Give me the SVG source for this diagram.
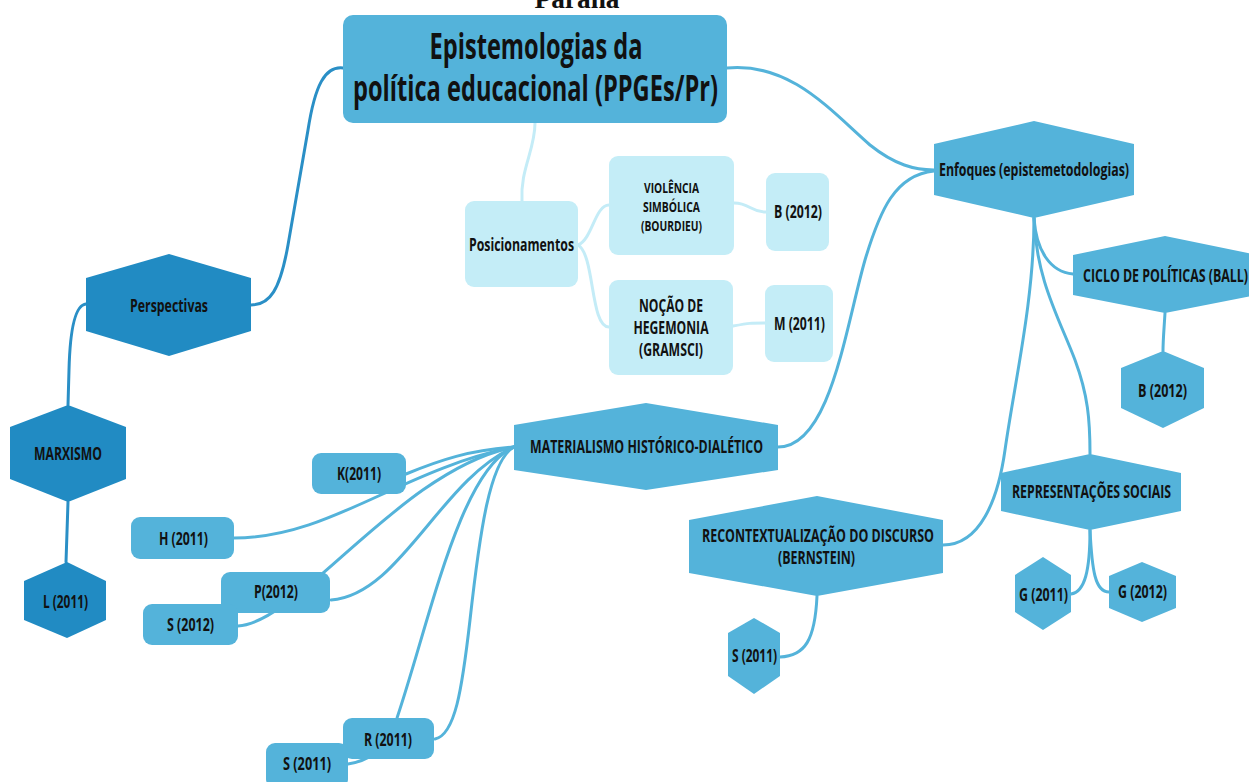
<svg xmlns="http://www.w3.org/2000/svg" width="1249" height="782" viewBox="0 0 1249 782">
<style>
.e{fill:none;stroke:#54b3da;stroke-width:3;stroke-linecap:round}
.ed{fill:none;stroke:#2a8fc6;stroke-width:3;stroke-linecap:round}
.el{fill:none;stroke:#c4ecf7;stroke-width:3;stroke-linecap:round}
.m{fill:#54b3da}
.d{fill:#218bc3}
.l{fill:#c4edf7}
text{font-family:"Open Sans","Liberation Sans",sans-serif;font-weight:bold;fill:#111;text-anchor:middle}
.s{font-size:17.5px}
.t{font-size:15px}
.h{font-size:35px}
</style>
<rect width="1249" height="782" fill="#fff"/>
<text x="577" y="8" style="font-family:'Liberation Serif',serif;font-size:27px;font-weight:bold" textLength="85" lengthAdjust="spacingAndGlyphs">Paraná</text>
<g id="connectors">
<path class="ed" d="M343,68 C325,66 315,85 308,130 L288,245 C280,290 270,305 251,305"/>
<path class="ed" d="M86,304 C75,305 70,330 69,370 L68,405"/>
<path class="ed" d="M68,502 L66,562"/>
<path class="el" d="M535,123 C535,150 520,170 522,201"/>
<path class="el" d="M578,245 C592,240 595,205 609,205"/>
<path class="el" d="M578,245 C595,255 590,327 609,327"/>
<path class="el" d="M734,203 C750,203 750,212 766,212"/>
<path class="el" d="M733,326 C750,323 750,323 765,323"/>
<path class="e" d="M727,68 C790,62 830,110 870,145 C895,165 915,170 934,170"/>
<path class="e" d="M934,171 C895,175 880,210 865,260 C845,330 830,447 778,447"/>
<path class="e" d="M1034,218 C1034,300 1015,380 1005,450 C998,500 980,545 943,545"/>
<path class="e" d="M1034,218 C1036,250 1050,272 1073,274"/>
<path class="e" d="M1034,218 C1036,280 1060,320 1075,360 C1088,395 1090,420 1090,454"/>
<path class="e" d="M1090,530 C1090,570 1085,592 1071,594"/>
<path class="e" d="M1090,530 C1092,570 1095,592 1109,592"/>
<path class="e" d="M1165,313 C1164,330 1163,340 1163,351"/>
<path class="e" d="M817,596 C815,640 805,656 780,657"/>
<path class="e" d="M406,474 C440,460 470,450 514,447"/>
<path class="e" d="M234,538 C330,538 400,470 514,447"/>
<path class="e" d="M238,626 C300,622 400,470 514,447"/>
<path class="e" d="M331,600 C400,595 440,480 514,447"/>
<path class="e" d="M348,764 C375,760 385,745 397,718 C430,620 460,470 514,447"/>
<path class="e" d="M435,739 C455,735 462,690 470,620 C480,530 490,460 514,447"/>
</g>
<g id="root">
<rect class="m" x="343" y="15" width="384" height="108" rx="10"/>
<text class="h" x="536" y="59" textLength="213" lengthAdjust="spacingAndGlyphs">Epistemologias da</text>
<text class="h" x="535.5" y="101" textLength="365" lengthAdjust="spacingAndGlyphs">política educacional (PPGEs/Pr)</text>
</g>
<g id="perspectivas">
<polygon class="d" points="86,278 169,254 251,278 251,331 169,356 86,331"/>
<text class="s" x="169" y="312" textLength="78" lengthAdjust="spacingAndGlyphs">Perspectivas</text>
</g>
<g id="marxismo">
<polygon class="d" points="10,427 68,405 126,427 126,479 68,502 10,479"/>
<text class="s" x="68" y="460" textLength="68" lengthAdjust="spacingAndGlyphs">MARXISMO</text>
</g>
<g id="l2011">
<polygon class="d" points="24,581 67,562 106,581 106,620 67,638 24,620"/>
<text class="s" x="65.5" y="608" textLength="45" lengthAdjust="spacingAndGlyphs">L (2011)</text>
</g>
<g id="posicionamentos">
<rect class="l" x="465" y="201" width="113" height="86" rx="9"/>
<text class="s" x="521.5" y="251" textLength="105" lengthAdjust="spacingAndGlyphs">Posicionamentos</text>
</g>
<g id="violencia">
<rect class="l" x="609" y="156" width="125" height="99" rx="9"/>
<text class="t" x="671.5" y="193" textLength="55" lengthAdjust="spacingAndGlyphs">VIOLÊNCIA</text>
<text class="t" x="671.5" y="212" textLength="57" lengthAdjust="spacingAndGlyphs">SIMBÓLICA</text>
<text class="t" x="671.5" y="231" textLength="61" lengthAdjust="spacingAndGlyphs">(BOURDIEU)</text>
</g>
<g id="hegemonia">
<rect class="l" x="609" y="280" width="124" height="95" rx="9"/>
<text class="s" x="671" y="312" textLength="64" lengthAdjust="spacingAndGlyphs">NOÇÃO DE</text>
<text class="s" x="671" y="334" textLength="75" lengthAdjust="spacingAndGlyphs">HEGEMONIA</text>
<text class="s" x="671" y="356" textLength="64" lengthAdjust="spacingAndGlyphs">(GRAMSCI)</text>
</g>
<g id="b2012l">
<rect class="l" x="766" y="173" width="63" height="78" rx="9"/>
<text class="s" x="798" y="218" textLength="48" lengthAdjust="spacingAndGlyphs">B (2012)</text>
</g>
<g id="m2011">
<rect class="l" x="765" y="285" width="68" height="77" rx="9"/>
<text class="s" x="799.5" y="330" textLength="51" lengthAdjust="spacingAndGlyphs">M (2011)</text>
</g>
<g id="enfoques">
<polygon class="m" points="934,144 1034,121 1134,144 1134,195 1034,218 934,195"/>
<text class="s" x="1034" y="176" textLength="190" lengthAdjust="spacingAndGlyphs">Enfoques (epistemetodologias)</text>
</g>
<g id="ciclo">
<polygon class="m" points="1073,255 1165,236 1257,255 1257,295 1165,313 1073,295"/>
<text class="s" x="1165.5" y="282" textLength="165" lengthAdjust="spacingAndGlyphs">CICLO DE POLÍTICAS (BALL)</text>
</g>
<g id="b2012h">
<polygon class="m" points="1121,368 1163,351 1204,368 1204,408 1163,428 1121,408"/>
<text class="s" x="1162.5" y="397" textLength="49" lengthAdjust="spacingAndGlyphs">B (2012)</text>
</g>
<g id="representacoes">
<polygon class="m" points="1001,473 1090,454 1181,473 1181,511 1090,530 1001,511"/>
<text class="s" x="1091.5" y="498" textLength="159" lengthAdjust="spacingAndGlyphs">REPRESENTAÇÕES SOCIAIS</text>
</g>
<g id="g2011">
<polygon class="m" points="1015,575 1043,557 1071,575 1071,612 1043,630 1015,612"/>
<text class="s" x="1043.5" y="601" textLength="49" lengthAdjust="spacingAndGlyphs">G (2011)</text>
</g>
<g id="g2012">
<polygon class="m" points="1109,576 1142,562 1176,576 1176,608 1142,622 1109,608"/>
<text class="s" x="1142.5" y="598" textLength="49" lengthAdjust="spacingAndGlyphs">G (2012)</text>
</g>
<g id="recontextualizacao">
<polygon class="m" points="689,520 817,496 943,520 943,573 817,596 689,573"/>
<text class="s" x="818" y="542" textLength="232" lengthAdjust="spacingAndGlyphs">RECONTEXTUALIZAÇÃO DO DISCURSO</text>
<text class="s" x="816.5" y="564" textLength="77" lengthAdjust="spacingAndGlyphs">(BERNSTEIN)</text>
</g>
<g id="s2011r">
<polygon class="m" points="728,633 754,618 780,633 780,676 754,694 728,676"/>
<text class="s" x="754.5" y="662" textLength="45" lengthAdjust="spacingAndGlyphs">S (2011)</text>
</g>
<g id="materialismo">
<polygon class="m" points="514,425 646,403 778,425 778,470 646,490 514,470"/>
<text class="s" x="646.5" y="453" textLength="233" lengthAdjust="spacingAndGlyphs">MATERIALISMO HISTÓRICO-DIALÉTICO</text>
</g>
<g id="k2011">
<rect class="m" x="312" y="453" width="94" height="41" rx="9"/>
<text class="s" x="359" y="480" textLength="44" lengthAdjust="spacingAndGlyphs">K(2011)</text>
</g>
<g id="h2011">
<rect class="m" x="131" y="517" width="103" height="42" rx="9"/>
<text class="s" x="183.5" y="545" textLength="49" lengthAdjust="spacingAndGlyphs">H (2011)</text>
</g>
<g id="p2012">
<rect class="m" x="221" y="572" width="109" height="41" rx="9"/>
<text class="s" x="276" y="598" textLength="44" lengthAdjust="spacingAndGlyphs">P(2012)</text>
</g>
<g id="s2012">
<rect class="m" x="143" y="604" width="95" height="41" rx="9"/>
<text class="s" x="190.5" y="631" textLength="47" lengthAdjust="spacingAndGlyphs">S (2012)</text>
</g>
<g id="r2011">
<rect class="m" x="343" y="718" width="91" height="41" rx="9"/>
<text class="s" x="388" y="746" textLength="48" lengthAdjust="spacingAndGlyphs">R (2011)</text>
</g>
<g id="s2011l">
<rect class="m" x="266" y="743" width="82" height="45" rx="9"/>
<text class="s" x="307" y="770" textLength="48" lengthAdjust="spacingAndGlyphs">S (2011)</text>
</g>
</svg>
